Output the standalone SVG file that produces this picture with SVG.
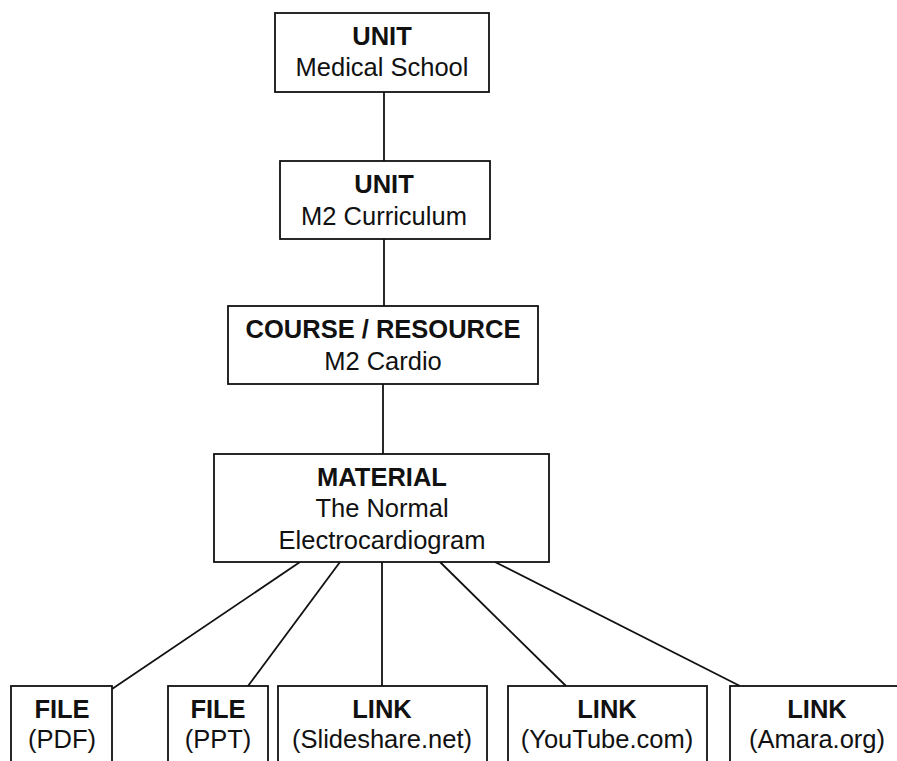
<svg xmlns="http://www.w3.org/2000/svg" width="897" height="761" viewBox="0 0 897 761">
<style>
.box{fill:#fff;stroke:#111;stroke-width:1.8}
.c{stroke:#111;stroke-width:1.8;fill:none}
text{font-family:"Liberation Sans",Arial,sans-serif;font-size:25.5px;fill:#111;text-anchor:middle}
.b{font-weight:bold}
</style>
<rect width="897" height="761" fill="#fff"/>
<g id="connectors">
<line class="c" x1="384" y1="92" x2="384" y2="161"/>
<line class="c" x1="384" y1="239" x2="384" y2="306"/>
<line class="c" x1="383" y1="384" x2="383" y2="454"/>
<line class="c" x1="300" y1="562" x2="112" y2="689"/>
<line class="c" x1="340" y1="562" x2="248" y2="686"/>
<line class="c" x1="382" y1="562" x2="382" y2="686"/>
<line class="c" x1="440" y1="562" x2="566" y2="686"/>
<line class="c" x1="495" y1="562" x2="740" y2="686"/>
</g>
<g id="unit-medical">
<rect class="box" x="275" y="13" width="214" height="79"/>
<text class="b" x="382" y="45">UNIT</text>
<text x="382" y="76">Medical School</text>
</g>
<g id="unit-m2">
<rect class="box" x="280" y="161" width="210" height="78"/>
<text class="b" x="384" y="193">UNIT</text>
<text x="384" y="225">M2 Curriculum</text>
</g>
<g id="course">
<rect class="box" x="228" y="306" width="310" height="78"/>
<text class="b" x="383" y="338">COURSE / RESOURCE</text>
<text x="383" y="370">M2 Cardio</text>
</g>
<g id="material">
<rect class="box" x="214" y="454" width="335" height="108"/>
<text class="b" x="382" y="486">MATERIAL</text>
<text x="382" y="517">The Normal</text>
<text x="382" y="549">Electrocardiogram</text>
</g>
<g id="file-pdf">
<rect class="box" x="11" y="686" width="101" height="90"/>
<text class="b" x="62" y="718">FILE</text>
<text x="62" y="748">(PDF)</text>
</g>
<g id="file-ppt">
<rect class="box" x="168" y="686" width="100" height="90"/>
<text class="b" x="218" y="718">FILE</text>
<text x="218" y="748">(PPT)</text>
</g>
<g id="link-slideshare">
<rect class="box" x="278" y="686" width="209" height="90"/>
<text class="b" x="382" y="718">LINK</text>
<text x="382" y="748">(Slideshare.net)</text>
</g>
<g id="link-youtube">
<rect class="box" x="508" y="686" width="199" height="90"/>
<text class="b" x="607" y="718">LINK</text>
<text x="607" y="748">(YouTube.com)</text>
</g>
<g id="link-amara">
<rect class="box" x="730" y="686" width="180" height="90"/>
<text class="b" x="817" y="718">LINK</text>
<text x="817" y="748">(Amara.org)</text>
</g>
</svg>
